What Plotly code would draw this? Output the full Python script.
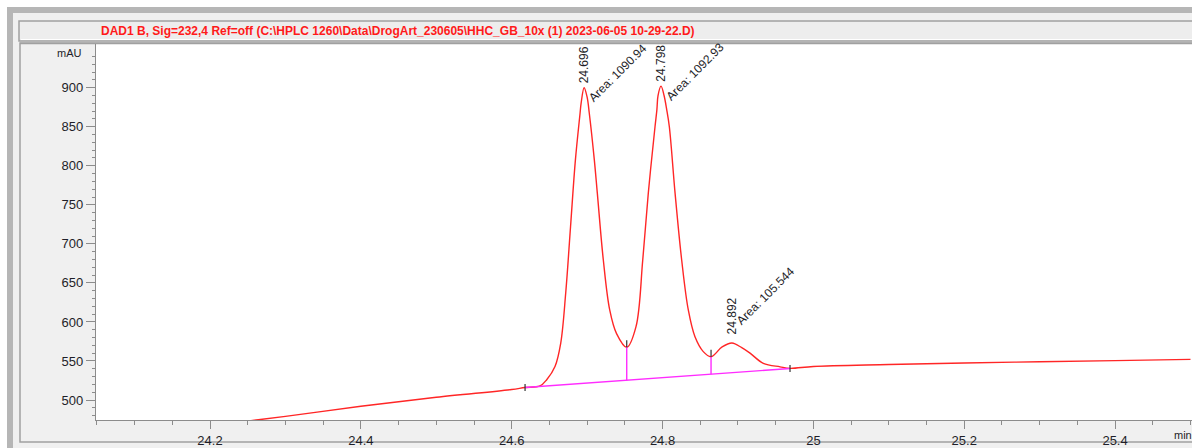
import numpy as np
import plotly.graph_objects as go

# ---- signal trace (DAD1 B, 232 nm) ----
time_min = [24.20, 24.30, 24.40, 24.50, 24.60, 24.6177, 24.6375, 24.6464, 24.6574,
            24.665, 24.6716, 24.678, 24.6844, 24.6906, 24.692, 24.696, 24.700,
            24.7029, 24.7096, 24.7135, 24.7215, 24.730, 24.739, 24.7525, 24.7648,
            24.7737, 24.7811, 24.790, 24.7925, 24.794, 24.798, 24.802, 24.8055,
            24.809, 24.8166, 24.8254, 24.8342, 24.843, 24.854, 24.8643, 24.879,
            24.892, 24.905, 24.916, 24.9336, 24.9558, 24.969, 25.0, 25.1, 25.2,
            25.3, 25.4, 25.5]
signal_mau = [467, 479, 492, 503.5, 513.5, 516, 518, 526, 543,
              573, 637, 722, 807, 867, 880, 900, 888,
              867, 807, 765, 679, 615, 585, 567.5, 594,
              679, 765, 850, 872, 890, 902, 890, 872,
              850, 765, 679, 615, 581, 562, 555.5, 568,
              573, 567, 560, 547, 542.5, 540.5, 543, 545.5, 547.5,
              549, 550.5, 552]

# ---- integration events ----
baseline_time = [24.6177, 24.969]
baseline_mau = [516, 540.3]
valley_time = [24.7525, 24.8643]
valley_mau = [567.5, 555.5]

# ---- peak table ----
peak_rt = [24.696, 24.798, 24.892]
peak_height = [900, 902, 573]
peak_area = [1090.94, 1092.93, 105.544]

# ---- axis labels ----
y_major = list(range(500, 901, 50))
y_minor = [v for v in range(480, 951, 10) if v % 50]

title_text = ("DAD1 B, Sig=232,4 Ref=off (C:\\HPLC 1260\\Data\\DrogArt_230605\\"
              "HHC_GB_10x (1) 2023-06-05 10-29-22.D)")

W, H = 1192, 448
ML, MR, MT, MB = 96, 0, 44, 28
PW, PH = W - ML - MR, H - MT - MB
X_RANGE = [24.0488, 25.502]
Y_RANGE = [474.4, 956.0]


def px(xp):
    return (xp - ML) / PW


def py(yp):
    return (H - MB - yp) / PH


FONT = "Liberation Sans, Arial, sans-serif"
TXT = "#1e1e28"
AXC = "#8c8c8c"

fig = go.Figure()

fig.add_trace(go.Scatter(
    x=time_min, y=signal_mau, mode="lines",
    line=dict(color="#ff2626", width=1.4, shape="spline", smoothing=1.0),
    hoverinfo="skip", showlegend=False))

# baseline and drop lines
base_at_valley = np.interp(valley_time, baseline_time, baseline_mau)
fig.add_trace(go.Scatter(
    x=baseline_time, y=baseline_mau, mode="lines",
    line=dict(color="#ff2cff", width=1.4), hoverinfo="skip", showlegend=False))
drop_x, drop_y = [], []
for t, v, b in zip(valley_time, valley_mau, base_at_valley):
    drop_x += [t, t, None]
    drop_y += [v, b, None]
fig.add_trace(go.Scatter(
    x=drop_x, y=drop_y, mode="lines",
    line=dict(color="#ff2cff", width=1.4), hoverinfo="skip", showlegend=False))

# event tick marks
tick_x, tick_y = [], []
for t, v in zip(baseline_time, baseline_mau):
    tick_x += [t, t, None]
    tick_y += [v - 4.5, v + 4.5, None]
for t, v in zip(valley_time, valley_mau):
    tick_x += [t, t, None]
    tick_y += [v, v + 9, None]
fig.add_trace(go.Scatter(
    x=tick_x, y=tick_y, mode="lines",
    line=dict(color="#333333", width=1.2), hoverinfo="skip", showlegend=False))

# peak annotations
rt_shift = [2, 2, 7]
area_shift = [(-1, -20), (-1, -20), (-1, 12)]
for rt, h, a, ry, (dx, dy) in zip(peak_rt, peak_height, peak_area, rt_shift, area_shift):
    fig.add_annotation(x=rt, y=h, text=f"{rt:.3f}", textangle=-90,
                       showarrow=False, xanchor="center", yanchor="bottom",
                       yshift=ry, font=dict(family=FONT, size=12, color=TXT))
    fig.add_annotation(x=rt, y=h, text=f"Area: {a:g}", textangle=-45,
                       showarrow=False, xanchor="left", yanchor="bottom",
                       xshift=dx, yshift=dy,
                       font=dict(family=FONT, size=12, color=TXT))

# window frame, header box, panel and white plotting area
shapes = [
    dict(type="rect", x0=px(7), x1=px(W + 5), y0=py(7), y1=py(H + 5),
         fillcolor="#b6b6b6", line_width=0),
    dict(type="rect", x0=px(13), x1=px(W + 5), y0=py(13), y1=py(H + 5),
         fillcolor="#f0f0f0", line_width=0),
    dict(type="rect", x0=px(19), x1=px(W + 5), y0=py(21), y1=py(41),
         fillcolor="#ededed", line=dict(color="#a0a0a0", width=1.5)),
    dict(type="line", x0=px(21), x1=px(W + 5), y0=py(39.5), y1=py(39.5),
         line=dict(color="#ffffff", width=1)),
    dict(type="rect", x0=px(20), x1=px(W + 5), y0=py(43), y1=py(442),
         fillcolor="#f0f0f0", line=dict(color="#a0a0a0", width=1.5)),
    dict(type="rect", x0=0, x1=1, y0=0, y1=1,
         fillcolor="#ffffff", line_width=0),
    dict(type="line", x0=px(20), x1=px(W + 5), y0=py(43.5), y1=py(43.5),
         line=dict(color="#a0a0a0", width=1.5)),
]
for s in shapes:
    s.update(xref="paper", yref="paper", layer="below")
fig.update_layout(shapes=shapes)

fig.add_annotation(xref="paper", yref="paper", x=px(99), y=py(31),
                   text=f"<b>{title_text}</b>", showarrow=False,
                   xanchor="left", yanchor="middle",
                   font=dict(family=FONT, size=12, color="#ff1a1a"))
fig.add_annotation(xref="paper", yref="paper", x=px(84), y=py(53),
                   text="mAU", showarrow=False, xanchor="right", yanchor="middle",
                   font=dict(family=FONT, size=11, color=TXT))
fig.add_annotation(xref="paper", yref="paper", x=px(1172), y=py(435),
                   text="min", showarrow=False, xanchor="left", yanchor="middle",
                   font=dict(family=FONT, size=11, color=TXT))

fig.update_xaxes(range=X_RANGE, dtick=0.2, tick0=24.0, ticks="outside",
                 ticklen=8, tickwidth=1, tickcolor=AXC,
                 showline=True, linecolor=AXC, linewidth=1.2,
                 showgrid=False, zeroline=False,
                 tickfont=dict(family=FONT, size=13, color=TXT),
                 minor=dict(dtick=0.05, tick0=24.0, ticks="outside", ticklen=4,
                            tickcolor=AXC, showgrid=False))
fig.update_yaxes(range=Y_RANGE, tickmode="array", tickvals=y_major,
                 ticks="outside", ticklen=9, tickwidth=1, tickcolor=AXC,
                 showline=True, linecolor=AXC, linewidth=1.2,
                 showgrid=False, zeroline=False,
                 tickfont=dict(family=FONT, size=13, color=TXT),
                 minor=dict(tickmode="array", tickvals=y_minor, ticks="outside",
                            ticklen=3, tickcolor=AXC, showgrid=False))

fig.update_layout(width=W, height=H, autosize=False,
                  margin=dict(l=ML, r=MR, t=MT, b=MB, pad=0),
                  paper_bgcolor="#ffffff", plot_bgcolor="#ffffff",
                  showlegend=False)

fig.write_html("out.html", config=dict(displayModeBar=False))
